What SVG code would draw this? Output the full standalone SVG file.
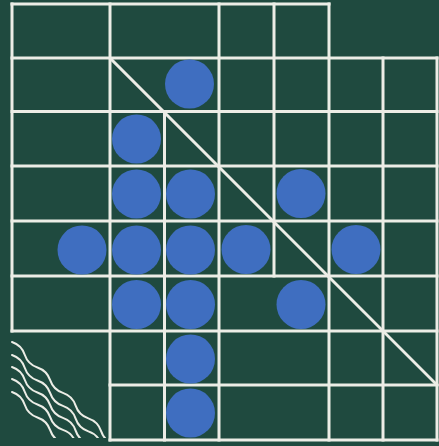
<svg xmlns="http://www.w3.org/2000/svg" width="439" height="446" viewBox="0 0 439 446">
<defs>
<style>
.bg{fill:#1f4a3f}
.g line{stroke:#ecede6;stroke-width:3;stroke-linecap:square}
.dot{fill:#3f6ec0}
.wave{fill:none;stroke:#ecede6;stroke-width:2;stroke-linecap:round}
</style>
<path id="w" d="M0,0 q9,-4.5 18,0 t18,0 t18,0 t18,0 t18,0 t18,0 t18,0 t18,0"/>
<clipPath id="cw"><rect x="0" y="330" width="112" height="108"/></clipPath>
</defs>
<rect class="bg" x="0" y="0" width="439" height="446"/>
<g id="grid" class="g">
<line x1="12" y1="4" x2="329" y2="4"/>
<line x1="12" y1="58" x2="437" y2="58"/>
<line x1="12" y1="111.5" x2="437" y2="111.5"/>
<line x1="12" y1="166" x2="437" y2="166"/>
<line x1="12" y1="221" x2="437" y2="221"/>
<line x1="12" y1="276" x2="437" y2="276"/>
<line x1="12" y1="331" x2="437" y2="331"/>
<line x1="110" y1="385" x2="437" y2="385"/>
<line x1="110" y1="440" x2="437" y2="440"/>
<line x1="12" y1="4" x2="12" y2="331"/>
<line x1="110" y1="4" x2="110" y2="440"/>
<line x1="164.5" y1="111.5" x2="164.5" y2="440"/>
<line x1="219" y1="4" x2="219" y2="440"/>
<line x1="274" y1="4" x2="274" y2="276"/>
<line x1="329" y1="4" x2="329" y2="440"/>
<line x1="383" y1="58" x2="383" y2="440"/>
<line x1="437" y1="58" x2="437" y2="440"/>
<line x1="110" y1="58" x2="437" y2="385"/>
</g>
<g id="dots" class="dot">
<circle cx="189.5" cy="84" r="24.5"/>
<circle cx="136.5" cy="139" r="24.5"/>
<circle cx="136.5" cy="194" r="24.5"/>
<circle cx="190.5" cy="194" r="24.5"/>
<circle cx="301" cy="193.5" r="24.5"/>
<circle cx="82" cy="250" r="24.5"/>
<circle cx="136.5" cy="250" r="24.5"/>
<circle cx="190.5" cy="250" r="24.5"/>
<circle cx="246" cy="249.5" r="24.5"/>
<circle cx="356" cy="249.5" r="24.5"/>
<circle cx="136.5" cy="304.5" r="24.5"/>
<circle cx="190.5" cy="304.5" r="24.5"/>
<circle cx="301" cy="304.5" r="24.5"/>
<circle cx="190.5" cy="359" r="24.5"/>
<circle cx="190.5" cy="413" r="24.5"/>
</g>
<g id="waves" class="wave" clip-path="url(#cw)">
<use href="#w" transform="translate(12,342) rotate(45)"/>
<use href="#w" transform="translate(12,355) rotate(45)"/>
<use href="#w" transform="translate(12,367) rotate(45)"/>
<use href="#w" transform="translate(12,379) rotate(45)"/>
<use href="#w" transform="translate(12,392) rotate(45)"/>
</g>
</svg>
